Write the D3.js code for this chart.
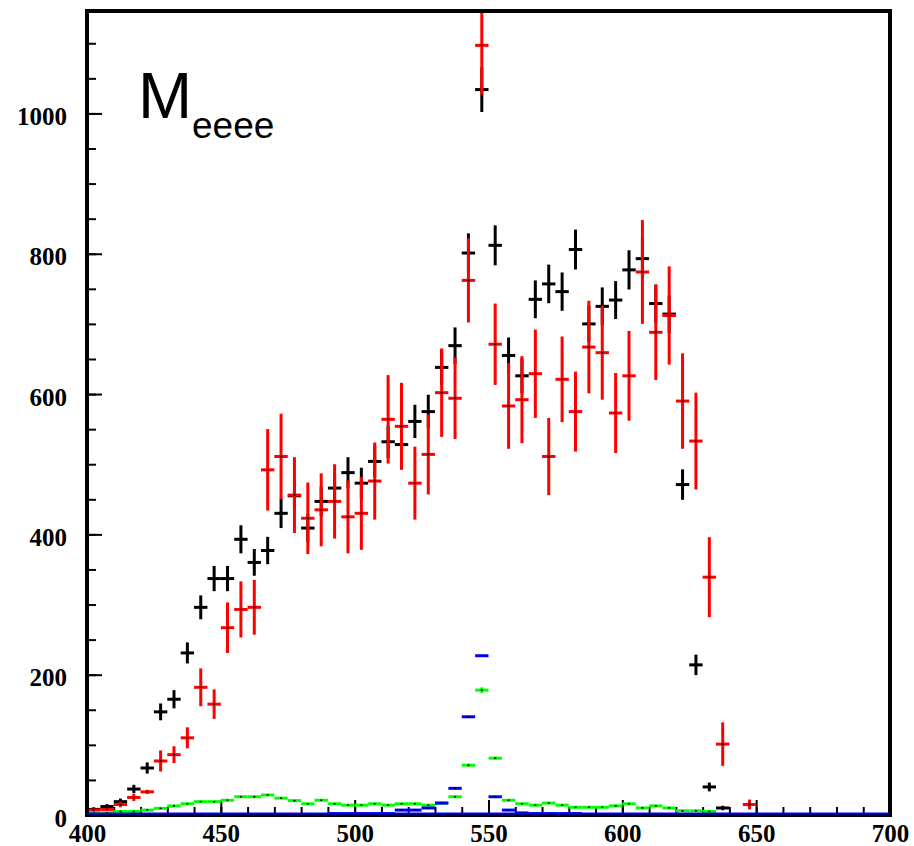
<!DOCTYPE html>
<html>
<head>
<meta charset="utf-8">
<script src="https://cdn.jsdelivr.net/npm/d3@7"></script>
<style>
body { margin: 0; background: #fff; }
</style>
</head>
<body>
<svg id="chart" width="914" height="846"></svg>
<script>
// histogram bins, 5 wide, first bin starts at 400
var binStart = 400, binWidth = 5;

// data points (bins 400-405 ... 645-650)
var dataBlack = [8, 12, 19, 37, 67, 147, 165, 231, 296, 337,
                 337, 393, 360, 377, 430, 455, 409, 447, 466, 488,
                 473, 504, 532, 528, 561, 575, 638, 669, 801, 1034,
                 812, 655, 626, 735, 757, 746, 806, 700, 725, 734,
                 777, 793, 729, 714, 471, 214, 40, 10, 0, 0];
var errBlack = [3, 3.5, 4.4, 6, 8, 12, 13, 15, 17, 18,
                18, 20, 19, 19.5, 21, 21, 20, 21, 21.5, 22,
                22, 22.5, 23, 23, 23.7, 24, 25, 26, 28, 32,
                28.5, 25.6, 25, 27, 27.5, 27.3, 28.4, 26.5, 27, 27,
                28, 28, 27, 26.7, 21.7, 14.6, 6.3, 3.2, 0, 0];

var dataRed = [7, 8, 15, 25, 33, 77, 86, 110, 182, 158,
               267, 293, 296, 492, 511, 456, 423, 435, 447, 425,
               430, 476, 564, 554, 473, 514, 602, 594, 762, 1097,
               671, 583, 592, 629, 511, 621, 575, 667, 659, 573,
               626, 774, 688, 712, 590, 533, 339, 101, 0, 15];
var errRed = [2, 2, 4, 5, 3, 15, 12, 15, 27, 21,
              36, 40, 39, 58, 61, 54, 51, 52, 53, 52,
              52, 55, 63, 62, 52, 57, 63, 58, 60, 70,
              58, 61, 62, 63, 55, 61, 57, 66, 67, 57,
              64, 74, 68, 70, 68, 69, 57, 31, 0, 7];

// simulation (bins 400-405 ... 695-700)
var mcGreen = [3, 3, 5, 5, 7, 9.5, 13, 16, 19, 19,
               21, 26, 26, 28.5, 24, 20.5, 16, 21, 16, 14,
               14, 16, 14, 16, 16, 14, 17, 26, 71, 178,
               81, 21, 16, 14, 17, 14, 11, 11, 11, 13,
               16, 10, 13, 10, 6, 6, 5, 0, 0, 0,
               0, 0, 0, 0, 0, 0, 0, 0, 0, 0];
var errGreen = [0, 0, 0, 0, 0, 0, 0, 0, 0, 0,
                0, 0, 0, 0, 0, 0, 0, 0, 0, 0,
                0, 0, 0, 0, 0, 0, 0, 0, 2, 4,
                2, 0, 0, 0, 0, 0, 0, 0, 0, 0,
                0, 0, 0, 0, 0, 0, 0, 0, 0, 0,
                0, 0, 0, 0, 0, 0, 0, 0, 0, 0];
var mcBlue = [0, 0, 0, 0, 0, 0, 0, 0, 0, 0,
              0, 0, 0, 0, 0, 0, 0, 0, 2, 2,
              2, 2, 2, 7, 7, 10, 17, 38, 140, 227,
              26, 7, 3, 2, 2, 2, 2, 0, 0, 0,
              0, 0, 0, 0, 0, 0, 0, 0, 0, 0,
              0, 0, 0, 0, 0, 0, 0, 0, 0, 0];

var xTickMajor = [400, 450, 500, 550, 600, 650, 700];
var yTickMajor = [0, 200, 400, 600, 800, 1000];

var svg = d3.select('#chart');
var x = d3.scaleLinear().domain([400, 700]).range([87, 890]);
var y = d3.scaleLinear().domain([0, 1146]).range([815, 11]);

svg.append('defs').append('clipPath').attr('id', 'plotclip')
	.append('rect').attr('x', x(400)).attr('y', y(1146))
	.attr('width', x(700) - x(400)).attr('height', y(0) - y(1146));

// minor + major ticks, pointing inwards
var xMinor = d3.range(400, 701, 10);
var yMinor = d3.range(0, 1146, 50);
var axisG = svg.append('g');

axisG.append('g').attr('transform', 'translate(0,' + y(0) + ')')
	.call(d3.axisBottom(x).tickValues(xMinor).tickSize(-8).tickFormat(''));
axisG.append('g').attr('transform', 'translate(0,' + y(0) + ')')
	.call(d3.axisBottom(x).tickValues(xTickMajor).tickSize(-15).tickFormat(d3.format('d')))
	.selectAll('text').attr('y', 27).attr('dy', 0);
axisG.append('g').attr('transform', 'translate(' + x(400) + ',0)')
	.call(d3.axisLeft(y).tickValues(yMinor).tickSize(-9).tickFormat(''));
axisG.append('g').attr('transform', 'translate(' + x(400) + ',0)')
	.call(d3.axisLeft(y).tickValues(yTickMajor).tickSize(-15).tickFormat(d3.format('d')))
	.selectAll('text').attr('x', -20).attr('dy', 0).attr('y', 11);

axisG.selectAll('.domain').remove();
axisG.selectAll('.tick line').attr('stroke', '#000').attr('stroke-width', 2);
axisG.selectAll('.tick text')
	.attr('fill', '#000')
	.style('font-family', '"Liberation Serif", "Times New Roman", serif')
	.style('font-weight', 'bold')
	.style('font-size', '25px');

var plot = svg.append('g').attr('clip-path', 'url(#plotclip)');

function drawSeries(values, errs, color, keepZero) {
	var pts = values.map(function(v, i){
		return {lo: binStart + i*binWidth, v: v, e: errs ? errs[i] : 0};
	}).filter(function(d){ return keepZero || d.v > 0; });
	var g = plot.append('g');
	var bins = g.selectAll('g').data(pts).enter().append('g');
	bins.append('line')
		.attr('x1', function(d){ return x(d.lo); })
		.attr('x2', function(d){ return x(d.lo + binWidth); })
		.attr('y1', function(d){ return y(d.v); })
		.attr('y2', function(d){ return y(d.v); })
		.attr('stroke', color).attr('stroke-width', 3);
	bins.filter(function(d){ return d.e > 0; }).append('line')
		.attr('x1', function(d){ return x(d.lo + binWidth/2); })
		.attr('x2', function(d){ return x(d.lo + binWidth/2); })
		.attr('y1', function(d){ return y(d.v - d.e); })
		.attr('y2', function(d){ return y(d.v + d.e); })
		.attr('stroke', color).attr('stroke-width', 3);
	// tiny marker dot at bin centre
	bins.filter(function(d){ return d.v > 0; }).append('rect')
		.attr('x', function(d){ return x(d.lo + binWidth/2) - 1; })
		.attr('y', function(d){ return y(d.v) - 0.75; })
		.attr('width', 2).attr('height', 1.5)
		.attr('fill', '#000');
}

drawSeries(dataBlack, errBlack, '#000000', false);
drawSeries(dataRed, errRed, '#ff0000', false);
drawSeries(mcGreen, errGreen, '#00ff00', false);
drawSeries(mcBlue, null, '#0000ff', true);

// frame
svg.append('rect')
	.attr('x', x(400)).attr('y', y(1146))
	.attr('width', x(700) - x(400)).attr('height', y(0) - y(1146))
	.attr('fill', 'none').attr('stroke', '#000').attr('stroke-width', 4);
// blue baseline sits on top of the bottom edge
svg.append('line')
	.attr('x1', x(400)).attr('x2', x(700))
	.attr('y1', y(0) - 1.5).attr('y2', y(0) - 1.5)
	.attr('stroke', '#0000ff').attr('stroke-width', 2);

// label
var label = svg.append('text')
	.attr('x', 138).attr('y', 118)
	.style('font-family', '"Liberation Sans", Arial, sans-serif')
	.attr('fill', '#000');
label.append('tspan').style('font-size', '65px').text('M');
label.append('tspan').attr('x', 192).attr('y', 138).style('font-size', '37px').text('eeee');
</script>
</body>
</html>
